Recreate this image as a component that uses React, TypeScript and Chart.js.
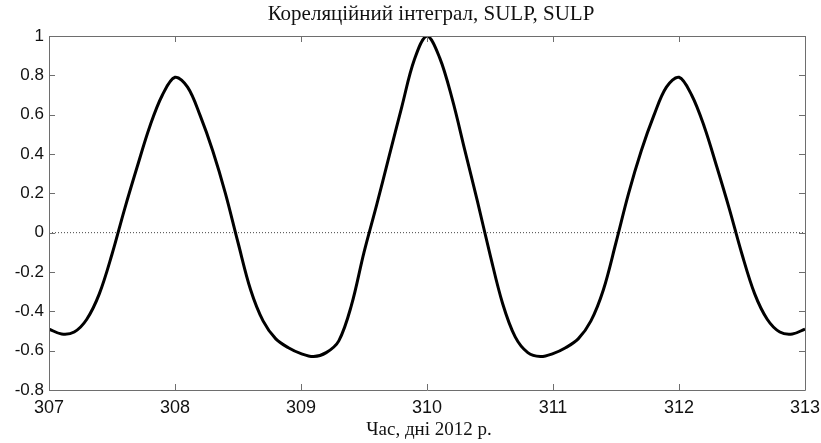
import React, { useEffect, useRef } from "react";
import { Chart, registerables } from "chart.js";

Chart.register(...registerables);

// ---- data ----
const days: number[] = [
  307.0, 307.1, 307.2, 307.3, 307.4, 307.5, 307.6, 307.7, 307.8, 307.9,
  308.0, 308.1, 308.2, 308.3, 308.4, 308.5, 308.6, 308.7, 308.8, 308.9,
  309.0, 309.1, 309.2, 309.3, 309.4, 309.5, 309.6, 309.7, 309.8, 309.9,
  310.0, 310.1, 310.2, 310.3, 310.4, 310.5, 310.6, 310.7, 310.8, 310.9,
  311.0, 311.1, 311.2, 311.3, 311.4, 311.5, 311.6, 311.7, 311.8, 311.9,
  312.0, 312.1, 312.2, 312.3, 312.4, 312.5, 312.6, 312.7, 312.8, 312.9,
  313.0,
];

const correlation: number[] = [
  -0.49, -0.515, -0.505, -0.44, -0.31, -0.11, 0.12, 0.335, 0.54, 0.7,
  0.79, 0.74, 0.595, 0.415, 0.2, -0.05, -0.29, -0.45, -0.54, -0.585,
  -0.615, -0.63, -0.61, -0.55, -0.37, -0.1, 0.14, 0.39, 0.64, 0.88,
  1.0, 0.89, 0.68, 0.42, 0.16, -0.11, -0.36, -0.53, -0.61, -0.63,
  -0.615, -0.585, -0.54, -0.45, -0.29, -0.05, 0.2, 0.415, 0.595, 0.74,
  0.79, 0.7, 0.54, 0.335, 0.12, -0.11, -0.31, -0.44, -0.505, -0.515,
  -0.49,
];

const zeroLineX: number[] = [307, 313];
const zeroLineY: number[] = [0, 0];

const xTicks: number[] = [307, 308, 309, 310, 311, 312, 313];
const yTicks: number[] = [-0.8, -0.6, -0.4, -0.2, 0, 0.2, 0.4, 0.6, 0.8, 1];

const titleText = "Кореляційний інтеграл, SULP, SULP";
const xLabelText = "Час, дні 2012 р.";

const W = 821;
const H = 443;

export default function App() {
  const ref = useRef<HTMLCanvasElement | null>(null);

  useEffect(() => {
    document.body.style.margin = "0";
    const canvas = ref.current;
    if (!canvas) return;

    const framePlugin = {
      id: "matlabFrame",
      afterDraw(chart: any) {
        const { ctx, chartArea } = chart;
        const { left, right, top, bottom } = chartArea;
        const xs = chart.scales.x;
        const ys = chart.scales.y;
        ctx.save();
        ctx.strokeStyle = "#6e6e6e";
        ctx.lineWidth = 1;
        ctx.beginPath();
        ctx.rect(Math.round(left) + 0.5, Math.round(top) + 0.5, Math.round(right - left), Math.round(bottom - top));
        ctx.stroke();
        const tl = 6;
        ctx.beginPath();
        for (const v of xTicks) {
          const px = Math.round(xs.getPixelForValue(v)) + 0.5;
          ctx.moveTo(px, bottom);
          ctx.lineTo(px, bottom - tl);
          ctx.moveTo(px, top);
          ctx.lineTo(px, top + tl);
        }
        for (const v of yTicks) {
          const py = Math.round(ys.getPixelForValue(v)) + 0.5;
          ctx.moveTo(left, py);
          ctx.lineTo(left + tl, py);
          ctx.moveTo(right, py);
          ctx.lineTo(right - tl, py);
        }
        ctx.stroke();

        ctx.fillStyle = "#111";
        ctx.textAlign = "center";
        ctx.textBaseline = "middle";
        ctx.font = '21px "Liberation Serif"';
        ctx.fillText(titleText, (left + right) / 2 + 4, 14);
        ctx.font = '19px "Liberation Serif"';
        ctx.fillText(xLabelText, (left + right) / 2 + 2, 430);
        ctx.restore();
      },
    };

    const chart = new Chart(canvas, {
      type: "line",
      data: {
        datasets: [
          {
            data: days.map((d, i) => ({ x: d, y: correlation[i] })),
            borderColor: "#000",
            borderWidth: 3,
            pointRadius: 0,
            tension: 0.35,
            fill: false,
            order: 0,
          },
          {
            data: zeroLineX.map((d, i) => ({ x: d, y: zeroLineY[i] })),
            borderColor: "#444",
            borderWidth: 1,
            borderDash: [1, 2],
            pointRadius: 0,
            fill: false,
            order: 1,
          },
        ],
      },
      options: {
        responsive: false,
        animation: false,
        devicePixelRatio: 1,
        layout: { padding: { left: 0, right: 16, top: 36, bottom: 0 } },
        plugins: {
          legend: { display: false },
          title: { display: false },
          tooltip: { enabled: false },
        },
        scales: {
          x: {
            type: "linear",
            min: 307,
            max: 313,
            afterBuildTicks: (s: any) => {
              s.ticks = xTicks.map((v) => ({ value: v }));
            },
            afterFit: (s: any) => {
              s.height = 53;
              s.paddingLeft = 0;
              s.paddingRight = 0;
            },
            grid: { display: false, drawTicks: false, tickLength: 0 },
            border: { display: false },
            ticks: {
              padding: 7,
              maxRotation: 0,
              autoSkip: false,
              color: "#111",
              font: { family: "Liberation Sans", size: 18 },
              callback: (v: any) => String(v),
            },
          },
          y: {
            type: "linear",
            min: -0.8,
            max: 1,
            afterBuildTicks: (s: any) => {
              s.ticks = yTicks.map((v) => ({ value: v }));
            },
            afterFit: (s: any) => {
              s.width = 49;
              s.paddingTop = 0;
              s.paddingBottom = 0;
            },
            grid: { display: false, drawTicks: false, tickLength: 0 },
            border: { display: false },
            ticks: {
              padding: 5,
              autoSkip: false,
              color: "#111",
              font: { family: "Liberation Sans", size: 17 },
              callback: (v: any) => String(Math.round(Number(v) * 10) / 10),
            },
          },
        },
      },
      plugins: [framePlugin],
    } as any);

    return () => chart.destroy();
  }, []);

  return (
    <div style={{ width: W, height: H }}>
      <canvas ref={ref} width={W} height={H} style={{ display: "block" }} />
    </div>
  );
}
